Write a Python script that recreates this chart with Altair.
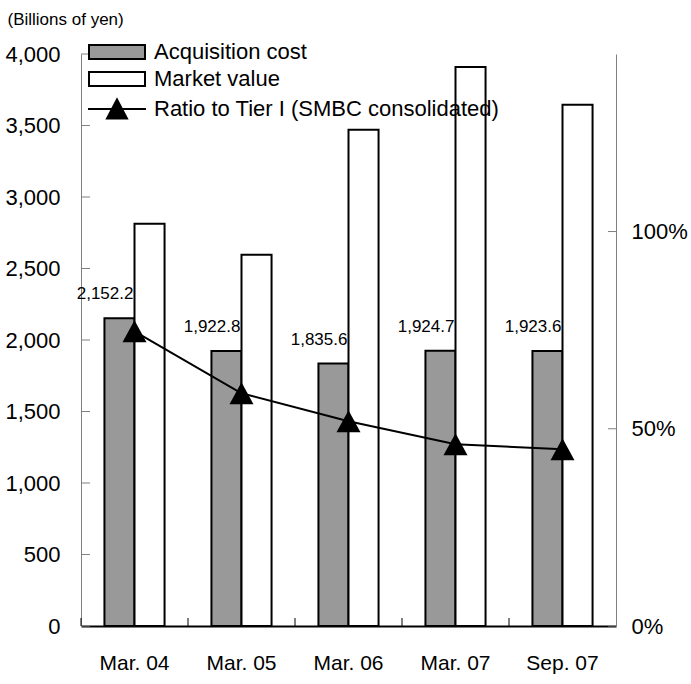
import altair as alt
import pandas as pd

# Stock holdings of SMBC: acquisition cost, market value and ratio to Tier I
periods = ["Mar. 04", "Mar. 05", "Mar. 06", "Mar. 07", "Sep. 07"]
acquisition_cost = [2152.2, 1922.8, 1835.6, 1924.7, 1923.6]
market_value = [2813, 2596, 3471, 3909, 3645]
tier1_ratio = [74.7, 59.0, 51.9, 46.1, 44.8]

series_names = ["Acquisition cost", "Market value", "Ratio to Tier I (SMBC consolidated)"]
left_ticks = [0, 500, 1000, 1500, 2000, 2500, 3000, 3500, 4000]
right_ticks = [0, 50, 100]

FONT = "Liberation Sans"
GRAY = "#999999"
AXIS_GRAY = "#808080"
W, H = 535, 572

# symbol paths (legend symbols are drawn at r = 10 px per unit)
RECT = "M-2.8,-0.7H2.8V0.7H-2.8Z"
LINE_TRI = "M-2.9,0H2.9M0,-0.95L1,0.95L-1,0.95Z"
MARKER = "M0,-1L1.09,1L-1.09,1Z"

bars_df = pd.DataFrame({
    "period": periods * 2,
    "series": [series_names[0]] * len(periods) + [series_names[1]] * len(periods),
    "value": acquisition_cost + market_value,
})
label_df = pd.DataFrame({"period": periods, "series": series_names[0], "value": acquisition_cost})
line_df = pd.DataFrame({"period": periods, "ratio": tier1_ratio})
lt_df = pd.DataFrame({"tick": left_ticks})
rt_df = pd.DataFrame({"tick": right_ticks})
cat_df = pd.DataFrame({"period": periods})

# shared scales and guides (repeated identically in every layer that uses them)
x_scale = alt.Scale(domain=periods, paddingInner=0, paddingOuter=0)
x_axis = alt.Axis(title=None, labelFontSize=21, labelFont=FONT, labelColor="black",
                  labelPadding=26, ticks=False, domainColor="black", domainWidth=2,
                  labelAngle=0, grid=False)
x_enc = alt.X("period:N", sort=periods, scale=x_scale, axis=x_axis)
xoff = alt.XOffset("series:N", scale=alt.Scale(domain=series_names[:2], paddingInner=0, paddingOuter=0.78))

left_scale = alt.Scale(domain=[0, 4000], nice=False, zero=True)
left_axis = alt.Axis(values=left_ticks, format=",.0f", title="(Billions of yen)",
                     titleAngle=0, titleAlign="left", titleBaseline="middle",
                     titleX=-74, titleY=-35, titleFontSize=17, titleFontWeight="normal",
                     titleFont=FONT, titleColor="black",
                     labelFontSize=22, labelFont=FONT, labelColor="black", labelPadding=21,
                     ticks=False, domainColor=AXIS_GRAY, domainWidth=1, grid=False)

right_scale = alt.Scale(domain=[0, 145], nice=False, zero=True)
right_axis = alt.Axis(orient="right", values=right_ticks, labelExpr="datum.value + '%'",
                      title=None, ticks=False, domainColor=AXIS_GRAY, domainWidth=1,
                      labelPadding=15, labelFontSize=22, labelFont=FONT, labelColor="black",
                      grid=False)

fill_scale = alt.Scale(domain=series_names, range=[GRAY, "white", "black"])
legend_def = alt.Legend(
    title=None, orient="none", legendX=25, legendY=-13, padding=0,
    labelFont=FONT, labelFontSize=22, labelColor="black", labelOffset=26, labelLimit=0,
    symbolSize=400, symbolStrokeWidth=2, symbolStrokeColor="black",
    symbolOpacity=1, rowPadding=5,
)

# empty layer carrying the symbol legend (fill, outline and custom shape per series)
legend_layer = alt.Chart(bars_df).transform_filter("false").mark_point(
    filled=False, color="black", strokeWidth=2, opacity=1
).encode(
    fill=alt.Fill("series:N", scale=fill_scale, legend=legend_def),
    stroke=alt.Stroke(
        "series:N",
        scale=alt.Scale(domain=series_names, range=["black", "black", "black"]),
        legend=legend_def,
    ),
    shape=alt.Shape(
        "series:N",
        scale=alt.Scale(domain=series_names, range=[RECT, RECT, LINE_TRI]),
        legend=legend_def,
    ),
)

bars = alt.Chart(bars_df).mark_bar(stroke="black", strokeWidth=2).encode(
    x=x_enc,
    xOffset=xoff,
    y=alt.Y("value:Q", scale=left_scale, axis=left_axis),
    fill=alt.Fill("series:N", scale=fill_scale, legend=legend_def),
)

labels = alt.Chart(label_df).mark_text(
    align="right", baseline="middle", dx=14, dy=-24, fontSize=17, font=FONT, color="black"
).encode(
    x=x_enc,
    xOffset=xoff,
    y=alt.Y("value:Q", scale=left_scale, axis=left_axis),
    text=alt.Text("value:Q", format=",.1f"),
)

left_tick_marks = alt.Chart(lt_df).mark_rule(color=AXIS_GRAY, strokeWidth=1).encode(
    y=alt.Y("tick:Q", scale=left_scale, axis=left_axis),
    x=alt.value(0),
    x2=alt.value(9),
)

cat_ticks = alt.Chart(cat_df).mark_rule(color="black", strokeWidth=1).encode(
    x=alt.X("period:N", sort=periods, scale=x_scale, axis=x_axis, bandPosition=0),
    y=alt.value(H),
    y2=alt.value(H - 8),
)

left_group = alt.layer(legend_layer, bars, labels, left_tick_marks, cat_ticks)

ratio_line = alt.Chart(line_df).mark_line(color="black", strokeWidth=2).encode(
    x=x_enc,
    y=alt.Y("ratio:Q", scale=right_scale, axis=right_axis),
)

ratio_points = alt.Chart(line_df).mark_point(
    shape=MARKER, size=484, filled=True, color="black", opacity=1, strokeWidth=0
).encode(
    x=x_enc,
    y=alt.Y("ratio:Q", scale=right_scale, axis=right_axis),
)

right_tick_marks = alt.Chart(rt_df).mark_rule(color=AXIS_GRAY, strokeWidth=1).encode(
    y=alt.Y("tick:Q", scale=right_scale, axis=right_axis),
    x=alt.value(W - 8),
    x2=alt.value(W),
)

right_group = alt.layer(ratio_line, ratio_points, right_tick_marks)

chart = (
    alt.layer(left_group, right_group)
    .resolve_scale(y="independent")
    .properties(
        width=W, height=H,
        autosize=alt.AutoSizeParams(type="none"),
        padding={"left": 81, "top": 54, "right": 75, "bottom": 58},
        background="white",
    )
    .configure_view(stroke=None)
)

chart.save("out.html", embed_options={"renderer": "svg", "actions": False})
